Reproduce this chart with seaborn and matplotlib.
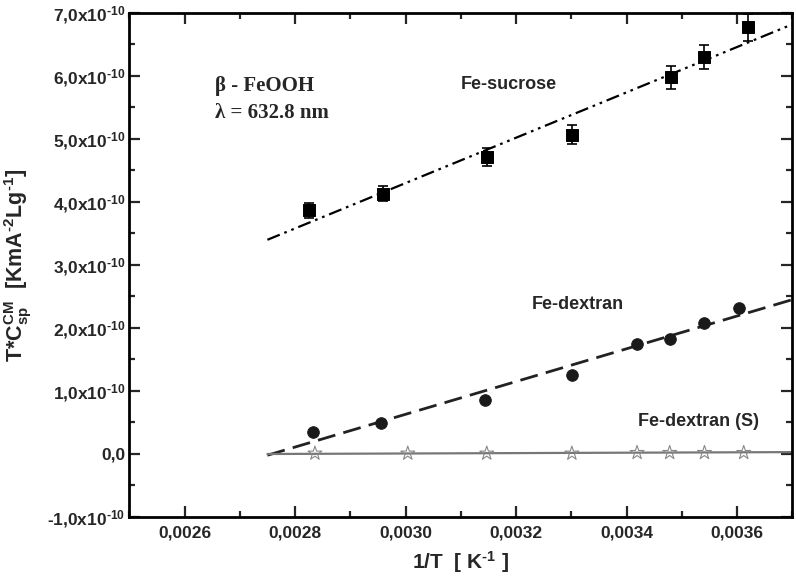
import numpy as np
import pandas as pd
import matplotlib
matplotlib.use("Agg")
import matplotlib.pyplot as plt
import seaborn as sns
from matplotlib.ticker import MultipleLocator, FuncFormatter

sns.set_theme(style="ticks")
plt.rcParams['font.family'] = ['Liberation Sans', 'DejaVu Sans']
plt.rcParams['mathtext.fontset'] = 'custom'
plt.rcParams['mathtext.rm'] = 'Liberation Sans:bold'
plt.rcParams['mathtext.it'] = 'Liberation Sans:bold'
plt.rcParams['mathtext.bf'] = 'Liberation Sans:bold'

# Data (y in units of 1e-10)
sucrose_x = [0.002825, 0.002959, 0.003147, 0.003301, 0.003480, 0.003541, 0.003619]
sucrose_y = [3.87, 4.13, 4.71, 5.07, 5.98, 6.30, 6.77]
sucrose_err = [0.12, 0.12, 0.14, 0.15, 0.18, 0.19, 0.22]
sucrose_fit_x = [0.00275, 0.00370]
sucrose_fit_y = [3.40, 6.82]

dextran_x = [0.002832, 0.002956, 0.003144, 0.003301, 0.003419, 0.003478, 0.003541, 0.003603]
dextran_y = [0.35, 0.49, 0.85, 1.25, 1.75, 1.82, 2.08, 2.31]
dextran_fit_x = [0.00275, 0.00370]
dextran_fit_y = [-0.02, 2.45]

dextranS_x = [0.002836, 0.003004, 0.003147, 0.003301, 0.003419, 0.003478, 0.003541, 0.003612]
dextranS_y = [0.01, 0.01, 0.01, 0.01, 0.02, 0.02, 0.02, 0.02]
dextranS_fit_x = [0.00275, 0.00370]
dextranS_fit_y = [0.00, 0.03]

fig = plt.figure(figsize=(7.96, 5.77), dpi=100)
ax = fig.add_axes([0.1624, 0.104, 0.833, 0.8735])

# fit lines
sns.lineplot(x=sucrose_fit_x, y=sucrose_fit_y, ax=ax, color='black', lw=1.6,
             linestyle=(0, (6, 2.2, 1.2, 2.2, 1.2, 2.2)))
sns.lineplot(x=dextran_fit_x, y=dextran_fit_y, ax=ax, color='#222222', lw=2.0,
             linestyle=(0, (6.5, 3)))
sns.lineplot(x=dextranS_fit_x, y=dextranS_fit_y, ax=ax, color='#777777', lw=1.6)

# data
ax.errorbar(sucrose_x, sucrose_y, yerr=sucrose_err, fmt='none', ecolor='black',
            elinewidth=1.2, capsize=3.5, capthick=1.2, zorder=3)
sns.scatterplot(x=sucrose_x, y=sucrose_y, ax=ax, marker='s', s=75, color='black',
                edgecolor='black', zorder=4)
sns.scatterplot(x=dextran_x, y=dextran_y, ax=ax, marker='o', s=70, color='#1a1a1a',
                edgecolor='#1a1a1a', zorder=4)
sns.scatterplot(x=dextranS_x, y=dextranS_y, ax=ax, marker='*', s=110, facecolor='none',
                edgecolor='#888888', linewidth=0.8, zorder=4)

ax.set_xlim(0.0025, 0.0037)
ax.set_ylim(-1.0, 7.0)

ax.xaxis.set_major_locator(MultipleLocator(0.0002))
ax.xaxis.set_minor_locator(MultipleLocator(0.0001))
ax.yaxis.set_major_locator(MultipleLocator(1.0))
ax.yaxis.set_minor_locator(MultipleLocator(0.5))

def xfmt(v, pos):
    if abs(v - 0.0025) < 1e-7 or abs(v - 0.0037) < 1e-7:
        return ''
    return f"{v:.4f}".replace('.', ',')

def yfmt(v, pos):
    if abs(v) < 1e-9:
        return '0,0'
    s = f"{v:.1f}".replace('.', ',')
    return s + r'x10$^{\text{-10}}$'

ax.xaxis.set_major_formatter(FuncFormatter(xfmt))
ax.yaxis.set_major_formatter(FuncFormatter(yfmt))

ax.tick_params(which='both', direction='in', top=True, right=True, width=1.6,
               labelsize=12.5)
ax.tick_params(axis='x', pad=6)
ax.tick_params(axis='y', pad=3)
ax.tick_params(which='major', length=8)
ax.tick_params(which='minor', length=4)
for lbl in ax.get_xticklabels() + ax.get_yticklabels():
    lbl.set_fontweight('bold')
for sp in ax.spines.values():
    sp.set_linewidth(2.0)
    sp.set_color('black')

ax.set_xlabel(r'1/T  [ K$^{\text{-1}}$ ]', fontsize=15, fontweight='bold', labelpad=6)
ax.set_ylabel(r'T*C$_{sp}^{CM}$  [KmA$^{\text{-2}}$Lg$^{\text{-1}}$]', fontsize=15.5,
              fontweight='bold')
ax.yaxis.set_label_coords(-0.143, 0.5)

ax.text(0.002655, 5.84, 'β - FeOOH', fontsize=15, fontweight='bold',
        family=['Liberation Serif', 'DejaVu Serif'], va='center')
ax.text(0.002655, 5.41, 'λ = 632.8 nm', fontsize=15, fontweight='bold',
        family=['Liberation Serif', 'DejaVu Serif'], va='center')
ax.text(0.00310, 5.87, 'Fe-sucrose', fontsize=13, fontweight='bold', va='center')
ax.text(0.003228, 2.38, 'Fe-dextran', fontsize=13, fontweight='bold', va='center')
ax.text(0.003421, 0.52, 'Fe-dextran (S)', fontsize=13, fontweight='bold', va='center')

fig.savefig('out.png', dpi=100)
